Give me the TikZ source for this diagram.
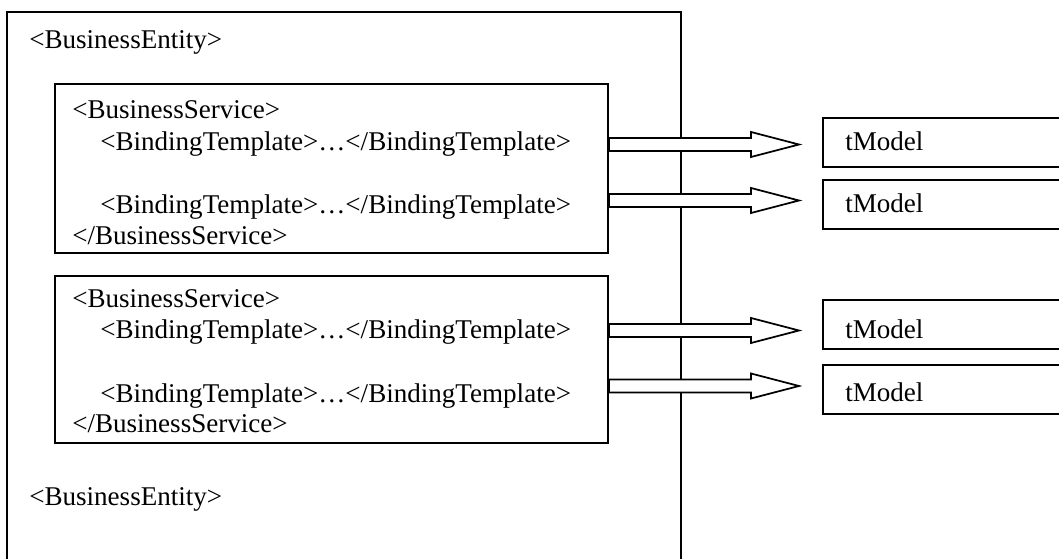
\documentclass[tikz,border=0pt]{standalone}
\usepackage{fontspec}
\setmainfont{Liberation Serif}
\usetikzlibrary{fit,calc}
\tikzset{
  box/.style={draw, line width=1.5pt, inner sep=0pt},
  txt/.style={anchor=base west, inner sep=0pt, font=\fontsize{20.3}{24}\selectfont},
  fatarrow/.style={draw, fill=white, line width=1.3pt, line join=miter},
}
% hollow block arrow from #1 (tail, on a box edge) to #2 (tip)
\newcommand\fatarrow[2]{%
  \draw[fatarrow] ($(#1)+(0,-6.5)$) -- ($(#2)+(-48,-6.5)$) -- ($(#2)+(-48,-12.5)$)
    -- (#2) -- ($(#2)+(-48,12.5)$) -- ($(#2)+(-48,6.5)$) -- ($(#1)+(0,6.5)$) -- cycle;}
\begin{document}
\begin{tikzpicture}[x=0.75pt, y=-0.75pt]
\useasboundingbox (0,0) rectangle (1059,559);
\clip (0,0) rectangle (1059,559);

% business entity frame (runs off the bottom)
\node[box, fit={(7,12) (681,620)}] (entity) {};

% business services
\node[box, fill=white, fit={(55,84) (608,253)}] (svc1) {};
\node[box, fill=white, fit={(55,276) (608,443)}] (svc2) {};

% tModels (run off the right)
\node[box, fit={(823,118) (1100,167)}] (tm1) {};
\node[box, fit={(823,180) (1100,229)}] (tm2) {};
\node[box, fit={(823,300) (1100,349)}] (tm3) {};
\node[box, fit={(823,365) (1100,414)}] (tm4) {};

% arrows from binding templates to tModels
\coordinate (s1) at (svc1.east |- 0,144.5);
\coordinate (s2) at (svc1.east |- 0,200.5);
\coordinate (s3) at (svc2.east |- 0,330.5);
\coordinate (s4) at (svc2.east |- 0,386);
\coordinate (e1) at ($(tm1.west |- s1)+(-23,0)$);
\coordinate (e2) at ($(tm2.west |- s2)+(-23,0)$);
\coordinate (e3) at ($(tm3.west |- s3)+(-23,0)$);
\coordinate (e4) at ($(tm4.west |- s4)+(-23,0)$);
\fatarrow{s1}{e1}
\fatarrow{s2}{e2}
\fatarrow{s3}{e3}
\fatarrow{s4}{e4}

% texts
\node[txt] (ent1) at (29,49) {<BusinessEntity>};
\node[txt] (a1) at (72,119) {<BusinessService>};
\node[txt] (a2) at (100,151) {<BindingTemplate>…</BindingTemplate>};
\node[txt] (a3) at (100,214) {<BindingTemplate>…</BindingTemplate>};
\node[txt] (a4) at (72,245) {</BusinessService>};
\node[txt] (b1) at (72,308) {<BusinessService>};
\node[txt] (b2) at (100,339) {<BindingTemplate>…</BindingTemplate>};
\node[txt] (b3) at (100,402) {<BindingTemplate>…</BindingTemplate>};
\node[txt] (b4) at (72,432) {</BusinessService>};
\node[txt] (ent2) at (29,505) {<BusinessEntity>};
\node[txt] (m1) at (845,151) {tModel};
\node[txt] (m2) at (845,213) {tModel};
\node[txt] (m3) at (845,339) {tModel};
\node[txt] (m4) at (845,401) {tModel};
\end{tikzpicture}
\end{document}
